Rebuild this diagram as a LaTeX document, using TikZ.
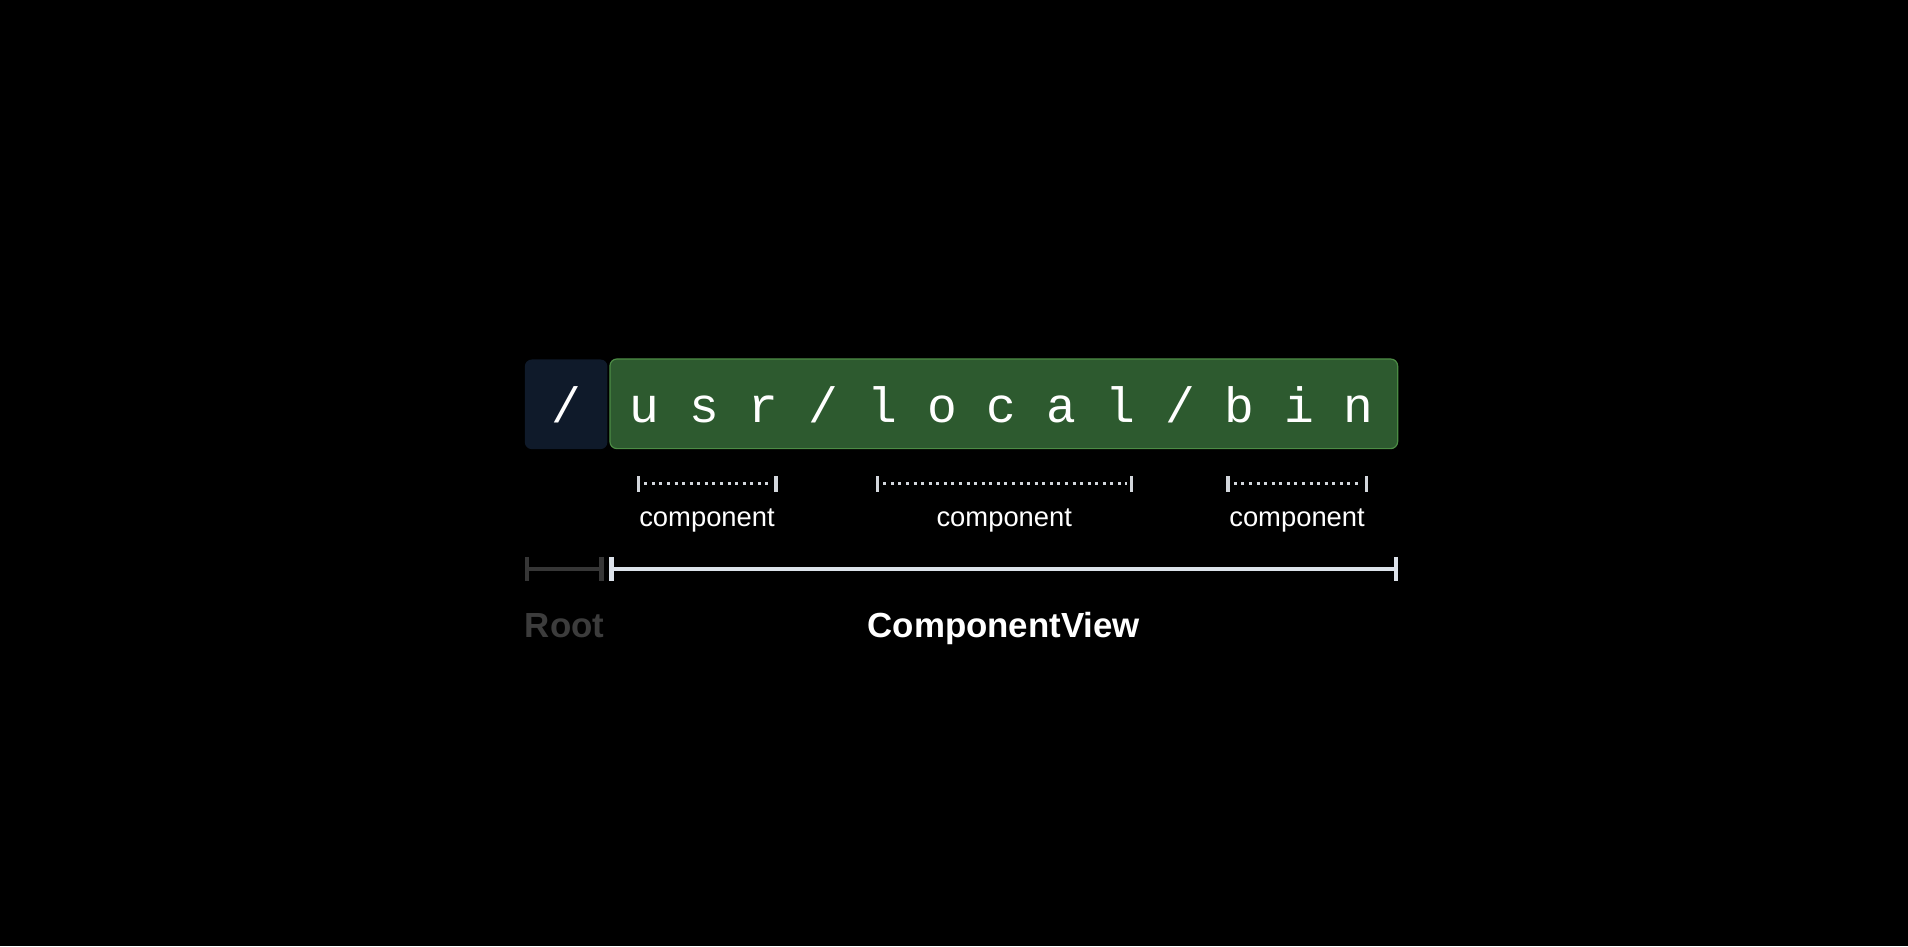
\documentclass[tikz,border=0pt]{standalone}
\usepackage{fontspec}
\usetikzlibrary{calc}
\setmainfont{Liberation Sans}
\newfontfamily\monof{Liberation Mono}
\definecolor{rootfill}{HTML}{0F1A2A}
\definecolor{pathfill}{HTML}{2D5A2F}
\definecolor{pathedge}{HTML}{4C8C45}
\definecolor{tickcol}{HTML}{D2D6DC}
\definecolor{cvcol}{HTML}{DCE2EA}
\definecolor{rootcol}{HTML}{363636}
\definecolor{rootlabel}{HTML}{3C3C3C}
\tikzset{
  boxbase/.style={inner sep=0pt, rounded corners=7pt},
  rootbox/.style={boxbase, fill=rootfill, minimum width=83pt, minimum height=90pt},
  pathbox/.style={boxbase, fill=pathfill, draw=pathedge, line width=1.2pt, minimum width=791pt, minimum height=90pt},
  pathtext/.style={inner sep=0pt, text=white, font=\monof\fontsize{49.8}{60}\selectfont},
  dotline/.style={draw=tickcol, line width=3pt, dash pattern=on 3pt off 4.6pt},
  smalltick/.style={draw=tickcol, line width=3.5pt},
  complabel/.style={inner sep=0pt, text=white, font=\fontsize{27.5}{32}\selectfont, anchor=base},
  bigbar/.style={line width=4pt},
  bigtick/.style={line width=4.5pt},
  biglabel/.style={inner sep=0pt, anchor=base, font=\bfseries\fontsize{35}{40}\selectfont},
}
\begin{document}
\begin{tikzpicture}[x=1pt,y=-1pt]
\fill[black] (-4,-4) rectangle (1912,946);
\useasboundingbox (0,0) rectangle (1908,942);
% boxes
\node[rootbox] (rootbox) at (564.5,402) {};
\node[pathbox] (pathbox) at (1004,401.5) {};
\node[pathtext, anchor=base] (rootslash) at (565,420) {/};
\node[pathtext, anchor=base west] (pathstr) at (628,420) {u s r / l o c a l / b i n};
% component markers
\foreach \i/\a/\b in {1/637/775, 2/877/1132, 3/1229/1368}{
  \coordinate (cl\i) at (\a,482);
  \coordinate (cr\i) at (\b,482);
  \draw[smalltick] ([yshift=-8pt]cl\i) -- ([yshift=8pt]cl\i);
  \draw[smalltick] ([yshift=-8pt]cr\i) -- ([yshift=8pt]cr\i);
  \draw[dotline] ([xshift=6pt]cl\i) -- ([xshift=-4pt]cr\i);
  \node[complabel] (comp\i) at ($(cl\i)!0.5!(cr\i)+(0,43)$) {component};
}
% root bar
\coordinate (rl) at (525,567);
\coordinate (rr) at (600,567);
\draw[rootcol, bigbar] (rl) -- (rr);
\draw[rootcol, bigtick] ([yshift=-12pt]rl) -- ([yshift=12pt]rl);
\draw[rootcol, bigtick] ([yshift=-12pt]rr) -- ([yshift=12pt]rr);
\node[biglabel, text=rootlabel] (rootlbl) at (563,636) {Root};
% component view bar
\coordinate (vl) at (610,567);
\coordinate (vr) at (1398,567);
\draw[cvcol, bigbar] (vl) -- (vr);
\draw[cvcol, bigtick] ([yshift=-12pt]vl) -- ([yshift=12pt]vl);
\draw[cvcol, bigtick] ([yshift=-12pt]vr) -- ([yshift=12pt]vr);
\node[biglabel, text=white] (cvlbl) at (1004,636) {ComponentView};
\end{tikzpicture}
\end{document}
